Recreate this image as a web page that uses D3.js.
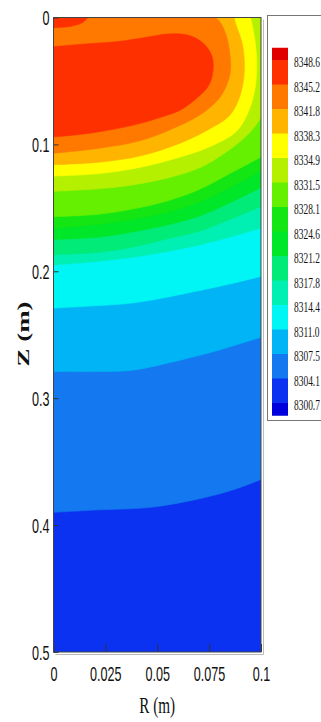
<!DOCTYPE html>
<html>
<head>
<meta charset="utf-8">
<script src="https://cdn.jsdelivr.net/npm/d3@7"></script>
<style>
  body { margin: 0; background: #fff; }
  svg { display: block; }
</style>
</head>
<body>
<div class="chart"></div>
<script>
// legend levels, top to bottom
const levels = [8348.6, 8345.2, 8341.8, 8338.3, 8334.9, 8331.5, 8328.1, 8324.6, 8321.2, 8317.8, 8314.4, 8311.0, 8307.5, 8304.1, 8300.7];

// band colours, top (above 8348.6) to bottom (below 8300.7)
const bandColors = ["#e00000", "#ff3000", "#ff7800", "#ffb400", "#ffff00", "#b4f000", "#64f000", "#14e614",
   "#00e628", "#00eb78", "#00f0b4", "#00f5f5", "#00b4f5", "#1478f0", "#0a32f0", "#0000dc"];

// axis ticks
const rTicks = [0, 0.025, 0.05, 0.075, 0.1];
const zTicks = [0, 0.1, 0.2, 0.3, 0.4, 0.5];

// contour lines, [R (m), Z (m)]
const c8304 = [[0, 0.390], [0.022, 0.388], [0.047, 0.386], [0.071, 0.379], [0.087, 0.372], [0.1, 0.364]];
const c8307 = [[0, 0.279], [0.022, 0.279], [0.038, 0.278], [0.061, 0.27], [0.08, 0.262], [0.1, 0.252]];
const c8311 = [[0, 0.229], [0.022, 0.227], [0.038, 0.225], [0.056, 0.22], [0.071, 0.215], [0.085, 0.21], [0.1, 0.204]];
const c8314 = [[0, 0.195], [0.022, 0.192], [0.038, 0.189], [0.056, 0.184], [0.071, 0.179], [0.085, 0.173], [0.1, 0.166]];
const c8317 = [[0, 0.187], [0.022, 0.185], [0.038, 0.181], [0.056, 0.174], [0.071, 0.168], [0.085, 0.159], [0.1, 0.149]];
const c8321 = [[0, 0.175], [0.022, 0.173], [0.038, 0.169], [0.056, 0.163], [0.071, 0.156], [0.085, 0.146], [0.1, 0.134]];
const c8324 = [[0, 0.166], [0.022, 0.163], [0.038, 0.159], [0.056, 0.153], [0.071, 0.145], [0.085, 0.134], [0.1, 0.121]];
const c8328 = [[0, 0.157], [0.022, 0.155], [0.038, 0.151], [0.056, 0.144], [0.071, 0.135], [0.085, 0.123], [0.1, 0.11]];
const c8331 = [[0, 0.137], [0.022, 0.135], [0.038, 0.132], [0.056, 0.126], [0.071, 0.118], [0.085, 0.104], [0.095, 0.09], [0.1, 0.079]];
const c8334 = [[0, 0.125], [0.022, 0.123], [0.042, 0.118], [0.061, 0.11], [0.075, 0.102], [0.088, 0.09], [0.094, 0.074],
   [0.097, 0.057], [0.098, 0.037], [0.097, 0.017], [0.095, 0]];
const c8338 = [[0, 0.116], [0.022, 0.114], [0.042, 0.109], [0.061, 0.099], [0.075, 0.088], [0.085, 0.077], [0.09, 0.061],
   [0.092, 0.041], [0.091, 0.021], [0.088, 0.006], [0.087, 0]];
const c8341 = [[0, 0.107], [0.022, 0.103], [0.042, 0.097], [0.061, 0.085], [0.073, 0.074], [0.081, 0.061], [0.085, 0.045],
   [0.085, 0.029], [0.083, 0.013], [0.08, 0.003], [0.078, 0]];
const c8345top = [[0.0166, 0], [0.014, 0.004], [0.008, 0.007], [0, 0.008]];
const c8345 = [[0, 0.023], [0.014, 0.021], [0.031, 0.019], [0.047, 0.015], [0.055, 0.013], [0.065, 0.014], [0.072, 0.02],
   [0.076, 0.029], [0.077, 0.039], [0.075, 0.053], [0.068, 0.065], [0.061, 0.073], [0.051, 0.079], [0.038, 0.085],
   [0.022, 0.09], [0.008, 0.093], [0, 0.094]];

// each contour with the corners that close the region of higher values
const TOP = [[0.1, 0], [0, 0]];
const CORNER = [[0, 0]];
const contours = [
   { level: 8304.1, pts: c8304, corners: TOP },
   { level: 8307.5, pts: c8307, corners: TOP },
   { level: 8311.0, pts: c8311, corners: TOP },
   { level: 8314.4, pts: c8314, corners: TOP },
   { level: 8317.8, pts: c8317, corners: TOP },
   { level: 8321.2, pts: c8321, corners: TOP },
   { level: 8324.6, pts: c8324, corners: TOP },
   { level: 8328.1, pts: c8328, corners: TOP },
   { level: 8331.5, pts: c8331, corners: TOP },
   { level: 8334.9, pts: c8334, corners: CORNER },
   { level: 8338.3, pts: c8338, corners: CORNER },
   { level: 8341.8, pts: c8341, corners: CORNER },
   { level: 8345.2, pts: c8345top, corners: CORNER },
   { level: 8345.2, pts: c8345, corners: [] }
];

// setup chart
const width = 321;
const height = 722;
const chart = d3.select(".chart").append("svg").attr("width", width).attr("height", height);

const x = d3.scaleLinear().domain([0, 0.1]).range([53.5, 261]);
const y = d3.scaleLinear().domain([0, 0.5]).range([17.5, 652]);

const ascending = levels.slice().reverse();
const color = d3.scaleThreshold().domain(ascending).range(bandColors.slice().reverse());

chart.append("clipPath").attr("id", "plot-clip")
   .append("rect")
   .attr("x", x(0)).attr("y", y(0))
   .attr("width", x(0.1) - x(0)).attr("height", y(0.5) - y(0));

const field = chart.append("g").attr("clip-path", "url(#plot-clip)");

// lowest band fills the whole domain
field.append("rect")
   .attr("x", x(0)).attr("y", y(0))
   .attr("width", x(0.1) - x(0)).attr("height", y(0.5) - y(0))
   .attr("fill", color(d3.min(levels)));

const line = d3.line()
   .x((d) => x(d[0]))
   .y((d) => y(d[1]))
   .curve(d3.curveCatmullRom.alpha(0.5));

field.selectAll("path")
   .data(contours)
   .enter()
   .append("path")
   .attr("d", (d) => line(d.pts) + d.corners.map((p) => `L${x(p[0])},${y(p[1])}`).join("") + "Z")
   .attr("fill", (d) => color(d.level))
   .attr("stroke", (d) => color(d.level))
   .attr("stroke-width", 0.6);

// axes
const fmt = d3.format("~g");
const zMinor = d3.range(0, 0.5001, 0.02);
const rMinor = d3.range(0, 0.1001, 0.005);

const yAxis = chart.append("g").attr("transform", `translate(${x(0)},0)`);
yAxis.call(d3.axisLeft(y).tickValues(zMinor).tickSize(-4).tickFormat(""));
yAxis.call(d3.axisLeft(y).tickValues(zTicks).tickSize(-5).tickFormat(fmt));
yAxis.selectAll(".domain").remove();
yAxis.selectAll(".tick text")
   .attr("x", null)
   .attr("dy", "0.36em")
   .attr("transform", "translate(-4,0) scale(0.63,1)")
   .style("font-family", "'Liberation Sans', Arial, sans-serif")
   .style("font-size", "20px")
   .attr("fill", "#111");
yAxis.selectAll(".tick line").attr("stroke", "#333");

const xAxis = chart.append("g").attr("transform", `translate(0,${y(0.5)})`);
xAxis.call(d3.axisBottom(x).tickValues(rMinor).tickSize(-8).tickFormat(""));
xAxis.call(d3.axisBottom(x).tickValues(rTicks).tickSize(-8).tickFormat(fmt));
xAxis.selectAll(".domain").remove();
xAxis.selectAll(".tick text")
   .attr("y", null)
   .attr("dy", "0.71em")
   .attr("transform", "translate(0,15) scale(0.63,1)")
   .style("font-family", "'Liberation Sans', Arial, sans-serif")
   .style("font-size", "20px")
   .attr("fill", "#111");
xAxis.selectAll(".tick line").attr("stroke", "#333");

// plot frame
chart.append("rect")
   .attr("x", x(0)).attr("y", y(0))
   .attr("width", x(0.1) - x(0)).attr("height", y(0.5) - y(0))
   .attr("fill", "none").attr("stroke", "#444").attr("stroke-width", 1);
chart.append("path")
   .attr("d", `M${x(0.1) + 2.5},${y(0) + 2}V${y(0.5) + 2.5}H${x(0) + 2}`)
   .attr("fill", "none").attr("stroke", "#bbb").attr("stroke-width", 1);

// axis titles
chart.append("text")
   .attr("transform", `translate(${(x(0) + x(0.1)) / 2},713) scale(0.66,1)`)
   .attr("text-anchor", "middle")
   .style("font-family", "'Liberation Serif', 'Times New Roman', serif")
   .style("font-size", "23px")
   .attr("fill", "#111")
   .text("R (m)");

chart.append("text")
   .attr("transform", "translate(23,334) scale(0.65,1) rotate(-90)")
   .attr("text-anchor", "middle")
   .attr("dy", "0.35em")
   .style("font-family", "'Liberation Serif', 'Times New Roman', serif")
   .style("font-size", "27px")
   .style("font-weight", "bold")
   .attr("fill", "#111")
   .text("Z (m)");

// legend
const legendY = d3.scalePoint().domain(levels).range([60, 403]);
const step = legendY.step();
const legend = chart.append("g").attr("id", "legend");

legend.append("rect")
   .attr("x", 267.5).attr("y", 15.5)
   .attr("width", 80).attr("height", 405)
   .attr("fill", "#fff").attr("stroke", "#777");

legend.selectAll("rect.swatch")
   .data(bandColors)
   .enter()
   .append("rect")
   .attr("class", "swatch")
   .attr("x", 272)
   .attr("width", 16)
   .attr("y", (d, i) => (i === 0 ? legendY(levels[0]) - step / 2 : legendY(levels[i - 1])))
   .attr("height", (d, i) => (i === 0 || i === bandColors.length - 1 ? step / 2 : step) + 0.5)
   .attr("fill", (d) => d);

legend.selectAll("text")
   .data(levels)
   .enter()
   .append("text")
   .attr("transform", (d) => `translate(294,${legendY(d) + 2}) scale(0.65,1)`)
   .attr("dy", "0.35em")
   .style("font-family", "'Liberation Serif', 'Times New Roman', serif")
   .style("font-size", "14.5px")
   .attr("fill", "#111")
   .text((d) => d.toFixed(1));
</script>
</body>
</html>
